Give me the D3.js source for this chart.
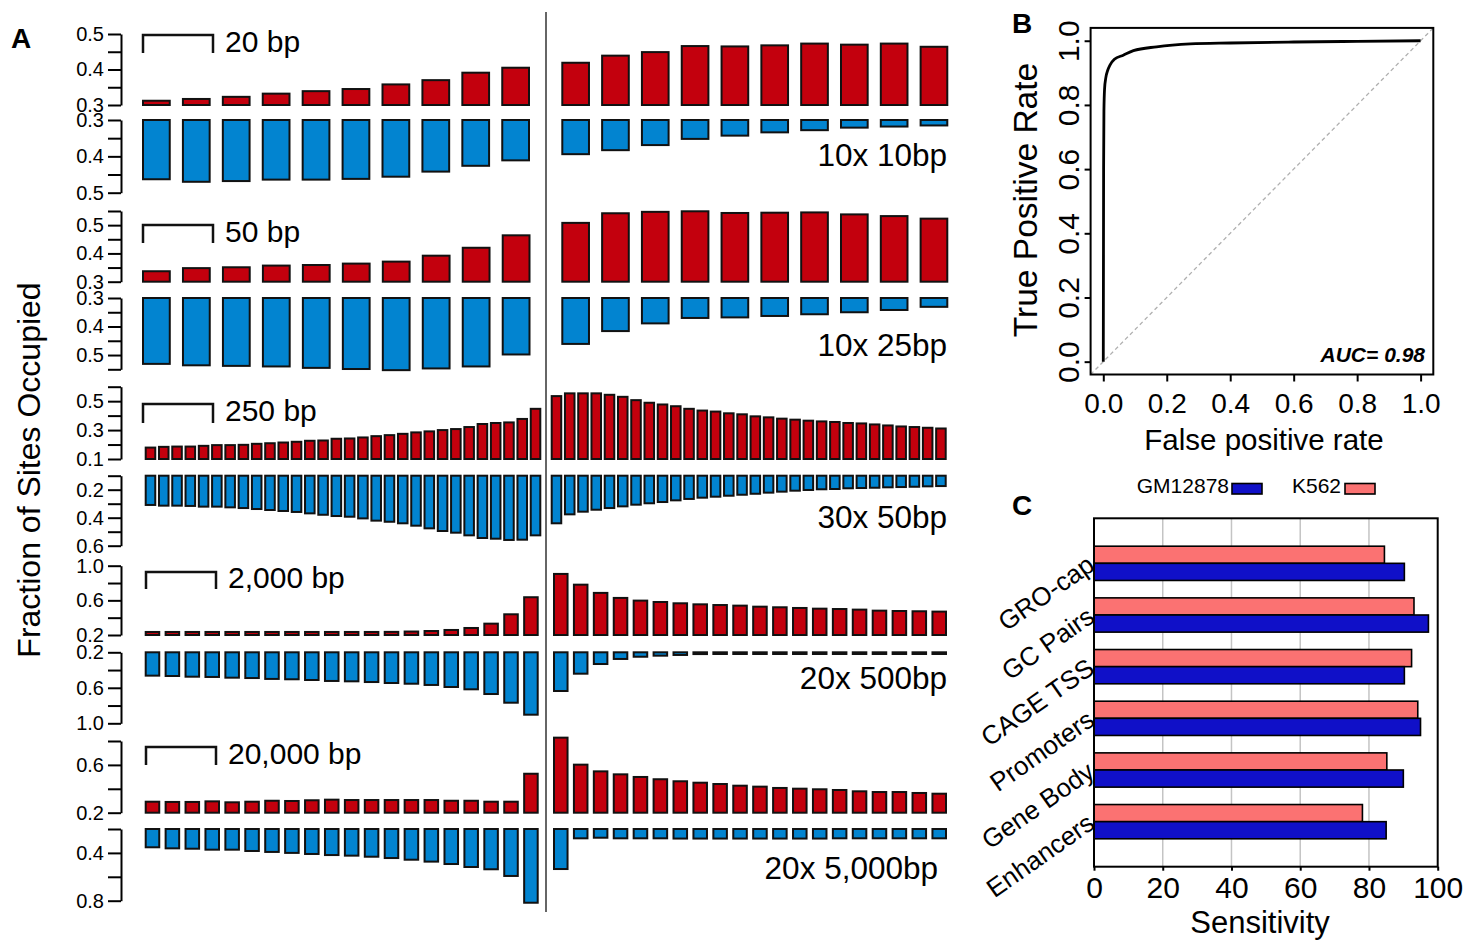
<!DOCTYPE html>
<html>
<head>
<meta charset="utf-8">
<script src="https://cdn.jsdelivr.net/npm/d3@7"></script>
<style>
  body { margin: 0; background: #fff; }
  svg { display: block; font-family: "Liberation Sans", Arial, sans-serif; }
</style>
</head>
<body>
<svg id="fig"></svg>
<script>
// ---------- panel A data: fraction of sites occupied (red = up, blue = down) ----------
const scaleLabels = ['20 bp', '50 bp', '250 bp', '2,000 bp', '20,000 bp'];
const binLabels = ['10x 10bp', '10x 25bp', '30x 50bp', '20x 500bp', '20x 5,000bp'];

const red10bpLeft = [0.312, 0.317, 0.323, 0.332, 0.339, 0.345, 0.358, 0.370, 0.391, 0.405];
const red10bpRight = [0.419, 0.439, 0.449, 0.466, 0.465, 0.468, 0.473, 0.470, 0.473, 0.464];
const blue10bpLeft = [0.463, 0.470, 0.468, 0.464, 0.464, 0.462, 0.456, 0.442, 0.426, 0.411];
const blue10bpRight = [0.394, 0.383, 0.369, 0.352, 0.343, 0.334, 0.328, 0.321, 0.318, 0.315];

const red25bpLeft = [0.337, 0.348, 0.351, 0.357, 0.359, 0.364, 0.371, 0.392, 0.420, 0.464];
const red25bpRight = [0.508, 0.542, 0.547, 0.549, 0.543, 0.544, 0.545, 0.538, 0.532, 0.523];
const blue25bpLeft = [0.531, 0.536, 0.538, 0.540, 0.545, 0.549, 0.553, 0.547, 0.540, 0.498];
const blue25bpRight = [0.461, 0.416, 0.389, 0.370, 0.368, 0.363, 0.357, 0.350, 0.342, 0.331];

const red50bpLeft = [0.179, 0.184, 0.186, 0.186, 0.191, 0.196, 0.196, 0.198, 0.205, 0.209, 0.214, 0.219, 0.226, 0.228, 0.240,
                     0.242, 0.249, 0.258, 0.265, 0.274, 0.284, 0.291, 0.300, 0.307, 0.321, 0.342, 0.349, 0.353, 0.377, 0.447];
const red50bpRight = [0.535, 0.554, 0.554, 0.554, 0.544, 0.530, 0.507, 0.489, 0.477, 0.465, 0.447, 0.435, 0.428, 0.416, 0.409,
                      0.395, 0.388, 0.379, 0.372, 0.365, 0.360, 0.356, 0.349, 0.346, 0.339, 0.332, 0.325, 0.321, 0.316, 0.311];
const blue50bpLeft = [0.309, 0.314, 0.314, 0.316, 0.321, 0.321, 0.326, 0.331, 0.338, 0.345, 0.352, 0.359, 0.369, 0.379, 0.388,
                      0.393, 0.405, 0.421, 0.429, 0.440, 0.457, 0.476, 0.495, 0.507, 0.526, 0.545, 0.550, 0.559, 0.557, 0.526];
const blue50bpRight = [0.440, 0.376, 0.357, 0.343, 0.331, 0.319, 0.307, 0.297, 0.288, 0.276, 0.266, 0.257, 0.250, 0.243, 0.236,
                       0.229, 0.221, 0.214, 0.207, 0.202, 0.197, 0.195, 0.190, 0.188, 0.186, 0.183, 0.181, 0.179, 0.176, 0.174];

const red500bpLeft = [0.235, 0.235, 0.235, 0.235, 0.235, 0.235, 0.235, 0.235, 0.235, 0.235,
                      0.235, 0.235, 0.236, 0.240, 0.246, 0.258, 0.281, 0.331, 0.439, 0.636];
const red500bpRight = [0.905, 0.781, 0.686, 0.628, 0.597, 0.581, 0.566, 0.554, 0.546, 0.539,
                       0.527, 0.520, 0.512, 0.504, 0.500, 0.493, 0.481, 0.477, 0.474, 0.470];
const blue500bpLeft = [0.463, 0.467, 0.475, 0.478, 0.486, 0.490, 0.500, 0.504, 0.512, 0.523,
                       0.527, 0.535, 0.546, 0.554, 0.568, 0.591, 0.617, 0.670, 0.768, 0.903];
const blue500bpRight = [0.636, 0.441, 0.332, 0.275, 0.250, 0.238, 0.230, 0.220, 0.219, 0.219,
                        0.219, 0.219, 0.219, 0.219, 0.219, 0.219, 0.219, 0.219, 0.219, 0.219];

const red5kbLeft = [0.292, 0.290, 0.290, 0.295, 0.287, 0.292, 0.300, 0.298, 0.304, 0.309,
                    0.306, 0.306, 0.306, 0.306, 0.306, 0.300, 0.300, 0.292, 0.292, 0.526];
const red5kbRight = [0.828, 0.602, 0.546, 0.521, 0.499, 0.480, 0.463, 0.451, 0.440, 0.426,
                     0.418, 0.407, 0.401, 0.396, 0.390, 0.379, 0.373, 0.373, 0.365, 0.359];
const blue5kbLeft = [0.353, 0.362, 0.365, 0.373, 0.373, 0.384, 0.392, 0.400, 0.409, 0.418,
                     0.423, 0.432, 0.443, 0.457, 0.473, 0.493, 0.518, 0.537, 0.593, 0.817];
const blue5kbRight = [0.535, 0.278, 0.273, 0.278, 0.278, 0.278, 0.280, 0.280, 0.280, 0.280,
                      0.280, 0.280, 0.280, 0.280, 0.278, 0.278, 0.278, 0.278, 0.278, 0.278];

const redLeft = [red10bpLeft, red25bpLeft, red50bpLeft, red500bpLeft, red5kbLeft];
const redRight = [red10bpRight, red25bpRight, red50bpRight, red500bpRight, red5kbRight];
const blueLeft = [blue10bpLeft, blue25bpLeft, blue50bpLeft, blue500bpLeft, blue5kbLeft];
const blueRight = [blue10bpRight, blue25bpRight, blue50bpRight, blue500bpRight, blue5kbRight];

// axis ticks per row (first and last tick = axis extent) and which ones carry a label
const redTicks = [[0.3, 0.35, 0.4, 0.45, 0.5], [0.3, 0.35, 0.4, 0.45, 0.5, 0.55], [0.1, 0.2, 0.3, 0.4, 0.5, 0.6],
                  [0.2, 0.4, 0.6, 0.8, 1.0], [0.2, 0.4, 0.6, 0.8]];
const redLabeled = [[0.3, 0.4, 0.5], [0.3, 0.4, 0.5], [0.1, 0.3, 0.5], [0.2, 0.6, 1.0], [0.2, 0.6]];
const blueTicks = [[0.3, 0.35, 0.4, 0.45, 0.5], [0.3, 0.35, 0.4, 0.45, 0.5, 0.55], [0.1, 0.2, 0.3, 0.4, 0.5, 0.6],
                   [0.2, 0.4, 0.6, 0.8, 1.0], [0.2, 0.4, 0.6, 0.8]];
const blueLabeled = [[0.3, 0.4, 0.5], [0.3, 0.4, 0.5], [0.2, 0.4, 0.6], [0.2, 0.6, 1.0], [0.4, 0.8]];

// ---------- panel B data: ROC ----------
const rocFpr = [0, 0.001, 0.002, 0.004, 0.008, 0.014, 0.021, 0.035, 0.063, 0.095, 0.168, 0.274, 0.4, 0.6, 0.8, 1.0];
const rocTpr = [0, 0.6, 0.78, 0.85, 0.885, 0.908, 0.924, 0.942, 0.955, 0.969, 0.981, 0.990, 0.993, 0.996, 0.998, 1.0];
const rocTicks = [0, 0.2, 0.4, 0.6, 0.8, 1.0];

// ---------- panel C data: sensitivity ----------
const sensCategories = ['GRO-cap', 'GC Pairs', 'CAGE TSS', 'Promoters', 'Gene Body', 'Enhancers'];
const sensK562 = [84.5, 93.1, 92.4, 94.2, 85.2, 78.1];
const sensGM12878 = [90.3, 97.3, 90.3, 95.0, 90.0, 85.0];
const sensSeries = ['GM12878', 'K562'];
const sensTicks = [0, 20, 40, 60, 80, 100];

// ---------- drawing ----------
const RED = '#c3000d', BLUE = '#0284d0';
const svg = d3.select('#fig').attr('width', 1464).attr('height', 941);

// layout for the five rows of panel A
const rowLayout = [
  {redY: [105, 34], blueY: [120, 192.7], xl: [143, 529], xr: [562.3, 947.3], pad: 0.33,
   br: [143, 213, 35, 53], lab: [225, 52], bin: [947, 166]},
  {redY: [281.7, 211], blueY: [298, 369.3], xl: [143, 529.5], xr: [562.3, 947.3], pad: 0.33,
   br: [143, 213, 225, 243], lab: [225, 242], bin: [947, 356]},
  {redY: [459, 386.7], blueY: [475.7, 545.7], xl: [145.7, 540.3], xr: [551.7, 945.7], pad: 0.28,
   br: [143, 213, 404, 423], lab: [225, 421], bin: [947, 528]},
  {redY: [635, 565.7], blueY: [652.3, 723.3], xl: [145.7, 537.7], xr: [554, 946], pad: 0.32,
   br: [146, 216, 572, 589], lab: [228, 588], bin: [947, 689]},
  {redY: [812.7, 741], blueY: [829, 900.7], xl: [145.7, 537.7], xr: [554, 946], pad: 0.32,
   br: [146, 216, 747, 765], lab: [228, 764], bin: [938, 879]}
];

let panelA = svg.append('g');

function styleAxis(g, fontSize) {
  g.select('.domain').attr('stroke', '#000').attr('stroke-width', 2);
  g.selectAll('.tick line').attr('stroke', '#000').attr('stroke-width', 2);
  g.selectAll('.tick text').attr('fill', '#000').style('font-size', fontSize + 'px')
    .style('font-family', '"Liberation Sans", Arial, sans-serif');
}

rowLayout.forEach((row, i) => {
  let yRed = d3.scaleLinear().domain(d3.extent(redTicks[i])).range(row.redY);
  let yBlue = d3.scaleLinear().domain(d3.extent(blueTicks[i])).range(row.blueY);
  let sides = [
    {range: row.xl, red: redLeft[i], blue: blueLeft[i]},
    {range: row.xr, red: redRight[i], blue: blueRight[i]}
  ];

  sides.forEach(side => {
    let x = d3.scaleBand()
      .domain(d3.range(side.red.length))
      .range(side.range)
      .paddingInner(row.pad)
      .paddingOuter(0);

    panelA.append('g').selectAll('rect')
      .data(side.red)
      .enter()
      .append('rect')
      .attr('x', (d, j) => x(j))
      .attr('width', x.bandwidth())
      .attr('y', d => yRed(d))
      .attr('height', d => yRed(yRed.domain()[0]) - yRed(d))
      .attr('fill', RED)
      .attr('stroke', '#111')
      .attr('stroke-width', 2);

    panelA.append('g').selectAll('rect')
      .data(side.blue)
      .enter()
      .append('rect')
      .attr('x', (d, j) => x(j))
      .attr('width', x.bandwidth())
      .attr('y', yBlue(yBlue.domain()[0]))
      .attr('height', d => yBlue(d) - yBlue(yBlue.domain()[0]))
      .attr('fill', BLUE)
      .attr('stroke', '#111')
      .attr('stroke-width', 2);
  });

  let fmt = d3.format('.1f');
  panelA.append('g')
    .attr('transform', 'translate(121,0)')
    .call(d3.axisLeft(yRed).tickValues(redTicks[i]).tickSize(13).tickPadding(4).tickSizeOuter(0)
      .tickFormat(d => redLabeled[i].includes(d) ? fmt(d) : ''))
    .call(g => styleAxis(g, 20));
  panelA.append('g')
    .attr('transform', 'translate(121,0)')
    .call(d3.axisLeft(yBlue).tickValues(blueTicks[i]).tickSize(13).tickPadding(4).tickSizeOuter(0)
      .tickFormat(d => blueLabeled[i].includes(d) ? fmt(d) : ''))
    .call(g => styleAxis(g, 20));

  // scale bracket
  let [bx0, bx1, by0, by1] = row.br;
  panelA.append('path')
    .attr('d', `M${bx0},${by1}V${by0}H${bx1}V${by1}`)
    .attr('fill', 'none').attr('stroke', '#111').attr('stroke-width', 2.5);
  panelA.append('text')
    .attr('x', row.lab[0]).attr('y', row.lab[1])
    .style('font-size', '30px')
    .text(scaleLabels[i]);
  panelA.append('text')
    .attr('x', row.bin[0]).attr('y', row.bin[1])
    .attr('text-anchor', 'end')
    .style('font-size', '31.5px')
    .text(binLabels[i]);
});

// divider and labels of panel A
panelA.append('line')
  .attr('x1', 546).attr('x2', 546).attr('y1', 12).attr('y2', 912)
  .attr('stroke', '#333').attr('stroke-width', 1.5);
panelA.append('text')
  .attr('transform', 'translate(40,470) rotate(-90)')
  .attr('text-anchor', 'middle')
  .style('font-size', '32px')
  .text('Fraction of Sites Occupied');
svg.append('text').attr('x', 11).attr('y', 48).style('font-size', '28px').style('font-weight', 'bold').text('A');

// ---------- panel B ----------
let panelB = svg.append('g');
let xRoc = d3.scaleLinear().domain([-0.04, 1.04]).range([1090.6, 1433.3]);
let yRoc = d3.scaleLinear().domain([-0.04, 1.04]).range([374.5, 27.9]);

panelB.append('line')
  .attr('x1', xRoc(-0.04)).attr('y1', yRoc(-0.04))
  .attr('x2', xRoc(1.04)).attr('y2', yRoc(1.04))
  .attr('stroke', '#b0b0b0').attr('stroke-width', 1.3).attr('stroke-dasharray', '4,3');

let rocLine = d3.line()
  .x(d => xRoc(d[0]))
  .y(d => yRoc(d[1]))
  .curve(d3.curveMonotoneX);
panelB.append('path')
  .datum(d3.zip(rocFpr, rocTpr))
  .attr('d', rocLine)
  .attr('fill', 'none').attr('stroke', '#000').attr('stroke-width', 2.8);

panelB.append('rect')
  .attr('x', xRoc(-0.04)).attr('y', yRoc(1.04))
  .attr('width', xRoc(1.04) - xRoc(-0.04)).attr('height', yRoc(-0.04) - yRoc(1.04))
  .attr('fill', 'none').attr('stroke', '#000').attr('stroke-width', 2);

panelB.append('g')
  .attr('transform', `translate(0,${yRoc(-0.04)})`)
  .call(d3.axisBottom(xRoc).tickValues(rocTicks).tickSize(7).tickPadding(12).tickFormat(d3.format('.1f')))
  .call(g => styleAxis(g, 28))
  .call(g => g.select('.domain').remove());

panelB.append('g')
  .attr('transform', `translate(${xRoc(-0.04)},0)`)
  .call(d3.axisLeft(yRoc).tickValues(rocTicks).tickSize(6).tickFormat(d3.format('.1f')))
  .call(g => styleAxis(g, 30))
  .call(g => g.select('.domain').remove())
  .call(g => g.selectAll('.tick text')
    .attr('transform', 'rotate(-90)')
    .attr('x', 0).attr('y', -12).attr('dy', 0)
    .attr('text-anchor', 'middle'));

panelB.append('text')
  .attr('x', 1264).attr('y', 450)
  .attr('text-anchor', 'middle')
  .style('font-size', '29.5px')
  .text('False positive rate');
panelB.append('text')
  .attr('transform', 'translate(1037,200) rotate(-90)')
  .attr('text-anchor', 'middle')
  .style('font-size', '33.5px')
  .text('True Positive Rate');
panelB.append('text')
  .attr('x', 1425).attr('y', 362)
  .attr('text-anchor', 'end')
  .style('font-size', '21px').style('font-weight', 'bold').style('font-style', 'italic')
  .text('AUC= 0.98');
svg.append('text').attr('x', 1012).attr('y', 33).style('font-size', '28px').style('font-weight', 'bold').text('B');

// ---------- panel C ----------
let panelC = svg.append('g');
let xSens = d3.scaleLinear().domain([0, 100]).range([1094, 1437.7]);
let yCat = d3.scaleBand().domain(sensCategories).range([518.3, 866.7]).paddingInner(0.337).paddingOuter(0.54);
let ySeries = d3.scaleBand().domain(['K562', 'GM12878']).range([0, yCat.bandwidth()]);
let sensColor = d3.scaleOrdinal().domain(sensSeries).range(['#1010c8', '#fb7272']);

panelC.append('g').selectAll('line')
  .data(sensTicks.slice(1, -1))
  .enter()
  .append('line')
  .attr('x1', d => xSens(d)).attr('x2', d => xSens(d))
  .attr('y1', 518.3).attr('y2', 866.7)
  .attr('stroke', '#c4c4c4').attr('stroke-width', 1.5);

let sensRows = sensCategories.map((c, i) => ({cat: c, K562: sensK562[i], GM12878: sensGM12878[i]}));
let groups = panelC.append('g').selectAll('g')
  .data(sensRows)
  .enter()
  .append('g')
  .attr('transform', d => `translate(0,${yCat(d.cat)})`);

groups.selectAll('rect')
  .data(d => ['K562', 'GM12878'].map(k => ({key: k, value: d[k]})))
  .enter()
  .append('rect')
  .attr('x', xSens(0))
  .attr('y', d => ySeries(d.key))
  .attr('width', d => xSens(d.value) - xSens(0))
  .attr('height', ySeries.bandwidth())
  .attr('fill', d => sensColor(d.key))
  .attr('stroke', '#000').attr('stroke-width', 1.6);

panelC.append('rect')
  .attr('x', 1094).attr('y', 518.3).attr('width', 1437.7 - 1094).attr('height', 866.7 - 518.3)
  .attr('fill', 'none').attr('stroke', '#000').attr('stroke-width', 2);

panelC.append('g')
  .attr('transform', 'translate(0,866.7)')
  .call(d3.axisBottom(xSens).tickValues(sensTicks).tickSize(4).tickPadding(6))
  .call(g => styleAxis(g, 30))
  .call(g => g.select('.domain').remove());

panelC.append('g').selectAll('text')
  .data(sensCategories)
  .enter()
  .append('text')
  .attr('transform', d => `translate(1091,${yCat(d) + yCat.bandwidth() / 2 - 2}) rotate(-35)`)
  .attr('text-anchor', 'end')
  .attr('dy', '0.35em')
  .style('font-size', '26px')
  .text(d => d);

panelC.append('text')
  .attr('x', 1260).attr('y', 933)
  .attr('text-anchor', 'middle')
  .style('font-size', '31px')
  .text('Sensitivity');

// legend
let legendPos = [[1229, 1232], [1341, 1345]];
sensSeries.forEach((s, i) => {
  panelC.append('text')
    .attr('x', legendPos[i][0]).attr('y', 493)
    .attr('text-anchor', 'end')
    .style('font-size', '21px')
    .text(s);
  panelC.append('rect')
    .attr('x', legendPos[i][1]).attr('y', 483.5).attr('width', 30).attr('height', 10.5)
    .attr('fill', sensColor(s)).attr('stroke', '#000').attr('stroke-width', 1.6);
});
svg.append('text').attr('x', 1012).attr('y', 515).style('font-size', '28px').style('font-weight', 'bold').text('C');
</script>
</body>
</html>
